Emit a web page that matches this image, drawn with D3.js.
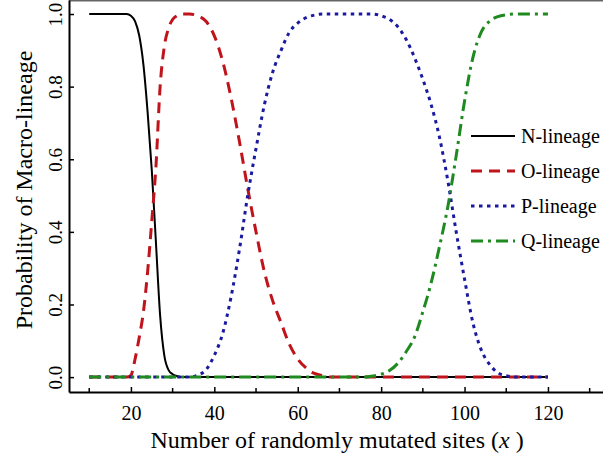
<!DOCTYPE html>
<html>
<head>
<meta charset="utf-8">
<script src="https://cdn.jsdelivr.net/npm/d3@7/dist/d3.min.js"></script>
<style>
  body { margin: 0; background: #fff; }
  svg { display: block; font-family: "Liberation Serif", "Times New Roman", serif; }
</style>
</head>
<body>
<div id="chart"></div>
<script>
// x values (number of randomly mutated sites)
var xValues = [10, 12, 14, 16, 18,
    19, 20, 21, 22, 23, 24, 25, 26, 27, 28, 29, 30, 31, 32,
    34, 36, 38, 40, 42, 44, 46, 48, 50, 52, 54, 56, 58, 60, 62, 64, 66, 68, 70,
    72, 74, 76, 78, 80, 82, 84, 86, 88, 90, 92, 94, 96, 98, 100, 102, 104, 106, 108, 110,
    112, 114, 116, 118, 120];

var nLineage = [1, 1, 1, 1, 1,
    1, 0.995, 0.98, 0.94, 0.86, 0.73, 0.57, 0.37, 0.17, 0.06, 0.02, 0.008, 0.003, 0,
    0, 0, 0, 0, 0, 0, 0, 0, 0, 0, 0, 0, 0, 0, 0, 0, 0, 0, 0,
    0, 0, 0, 0, 0, 0, 0, 0, 0, 0, 0, 0, 0, 0, 0, 0, 0, 0, 0, 0,
    0, 0, 0, 0, 0];

var oLineage = [0, 0, 0, 0, 0,
    0, 0.005, 0.05, 0.11, 0.18, 0.29, 0.43, 0.58, 0.8, 0.91, 0.96, 0.985, 0.995, 1,
    1, 0.995, 0.98, 0.94, 0.87, 0.77, 0.65, 0.52, 0.40, 0.29, 0.21, 0.15, 0.09, 0.05, 0.025, 0.01, 0.004, 0, 0,
    0, 0, 0, 0, 0, 0, 0, 0, 0, 0, 0, 0, 0, 0, 0, 0, 0, 0, 0, 0,
    0, 0, 0, 0, 0];

var pLineage = [0, 0, 0, 0, 0,
    0, 0, 0, 0, 0, 0, 0, 0, 0, 0, 0, 0, 0, 0,
    0, 0.005, 0.02, 0.06, 0.12, 0.22, 0.35, 0.5, 0.63, 0.75, 0.84, 0.9, 0.95, 0.975, 0.99, 0.997, 1, 1, 1,
    1, 1, 1, 1, 0.995, 0.985, 0.965, 0.93, 0.88, 0.82, 0.75, 0.66, 0.54, 0.4, 0.27, 0.15, 0.075, 0.035, 0.012, 0.004,
    0, 0, 0, 0, 0];

var qLineage = [0, 0, 0, 0, 0,
    0, 0, 0, 0, 0, 0, 0, 0, 0, 0, 0, 0, 0, 0,
    0, 0, 0, 0, 0, 0, 0, 0, 0, 0, 0, 0, 0, 0, 0, 0, 0, 0, 0,
    0, 0, 0, 0.003, 0.008, 0.018, 0.038, 0.07, 0.11, 0.18, 0.26, 0.36, 0.47, 0.61, 0.76, 0.88, 0.95, 0.98, 0.993, 0.998,
    1, 1, 1, 1, 1];

var seriesNames = ["N-lineage", "O-lineage", "P-lineage", "Q-lineage"];
var xTicks = [20, 40, 60, 80, 100, 120];
var xMinorTicks = [10, 30, 50, 70, 90, 110, 130];
var yTicks = [0, 0.2, 0.4, 0.6, 0.8, 1.0];

var width = 603, height = 457;
var plotLeft = 69, plotRight = 603, plotTop = 0, plotBottom = 392;

var svg = d3.select("#chart")
    .append("svg")
    .attr("width", width)
    .attr("height", height);

var x = d3.scaleLinear().domain([5.15, 133.2]).range([plotLeft, plotRight]);
var y = d3.scaleLinear().domain([-0.041, 1.0386]).range([plotBottom, plotTop]);

// line styles for each lineage
var styles = [
    {color: "#000000", dash: null, w: 2},
    {color: "#c0141c", dash: "11,7", w: 3},
    {color: "#1a1aa0", dash: "3.5,4.5", w: 3},
    {color: "#1f8a1f", dash: "12,5,3,5", w: 3}
];

var series = [nLineage, oLineage, pLineage, qLineage].map(function (vals, i) {
    return {
        name: seriesNames[i],
        style: styles[i],
        points: xValues.map(function (xv, j) { return [xv, vals[j]]; })
    };
});

var line = d3.line()
    .x(function (d) { return x(d[0]); })
    .y(function (d) { return y(d[1]); })
    .curve(d3.curveMonotoneX);

svg.append("g")
    .selectAll("path")
    .data(series)
    .enter().append("path")
    .attr("d", function (d) { return line(d.points); })
    .attr("fill", "none")
    .attr("stroke", function (d) { return d.style.color; })
    .attr("stroke-width", function (d) { return d.style.w; })
    .attr("stroke-dasharray", function (d) { return d.style.dash; });

// frame: gray top border, black axes
svg.append("line")
    .attr("x1", plotLeft).attr("x2", plotRight)
    .attr("y1", 0.75).attr("y2", 0.75)
    .attr("stroke", "#666").attr("stroke-width", 1.5);

var xAxis = svg.append("g")
    .attr("transform", "translate(0," + plotBottom + ")")
    .call(d3.axisBottom(x).tickValues(xTicks).tickSizeInner(-5).tickSizeOuter(0).tickPadding(14));

xAxis.selectAll(".minor")
    .data(xMinorTicks)
    .enter().append("line")
    .attr("class", "minor")
    .attr("x1", function (d) { return x(d); })
    .attr("x2", function (d) { return x(d); })
    .attr("y1", 0).attr("y2", -4)
    .attr("stroke", "#000").attr("stroke-width", 1.5);

var yAxis = svg.append("g")
    .attr("transform", "translate(" + plotLeft + ",0)")
    .call(d3.axisLeft(y).tickValues(yTicks).tickFormat(d3.format(".1f")).tickSizeInner(-5).tickSizeOuter(0));

[xAxis, yAxis].forEach(function (g) {
    g.select(".domain").attr("stroke", "#000").attr("stroke-width", 2);
    g.selectAll(".tick line").attr("stroke", "#000").attr("stroke-width", 1.5);
    g.selectAll("text").attr("fill", "#000").style("font-family", "Liberation Serif");
});

xAxis.selectAll(".tick text")
    .style("font-size", "20px")
    .attr("dy", "0.71em");

// y tick labels rotated upright along the axis
yAxis.selectAll(".tick text")
    .style("font-size", "19px")
    .attr("text-anchor", "middle")
    .attr("x", null).attr("dy", null)
    .attr("transform", "translate(-7,0) rotate(-90)");

// axis titles
var xTitle = svg.append("text")
    .attr("x", 337)
    .attr("y", 448)
    .attr("text-anchor", "middle")
    .style("font-size", "24px");
xTitle.append("tspan").text("Number of randomly mutated sites (");
xTitle.append("tspan").style("font-style", "italic").text("x");
xTitle.append("tspan").text(" )");

svg.append("text")
    .attr("transform", "translate(32,190) rotate(-90)")
    .attr("text-anchor", "middle")
    .style("font-size", "24px")
    .text("Probability of Macro-lineage");

// legend
var legend = svg.append("g")
    .selectAll("g")
    .data(series)
    .enter().append("g")
    .attr("transform", function (d, i) { return "translate(471," + (136 + i * 35) + ")"; });

legend.append("line")
    .attr("x1", 0).attr("x2", 44)
    .attr("stroke", function (d) { return d.style.color; })
    .attr("stroke-width", function (d) { return d.style.w; })
    .attr("stroke-dasharray", function (d) { return d.style.dash; });

legend.append("text")
    .attr("x", 50)
    .attr("dy", "0.35em")
    .style("font-size", "20px")
    .text(function (d) { return d.name; });
</script>
</body>
</html>
